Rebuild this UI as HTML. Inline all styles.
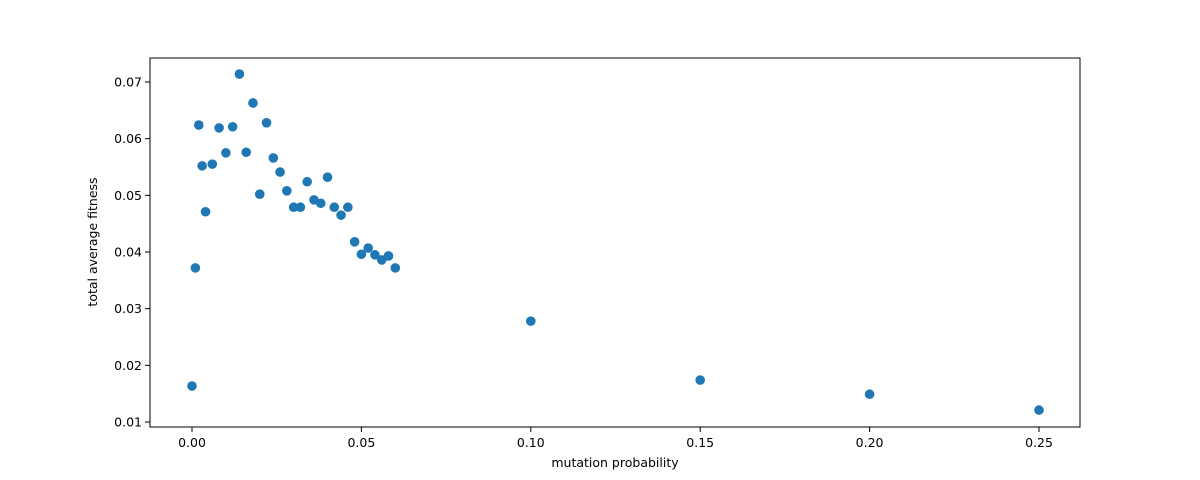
<!DOCTYPE html>
<html><head><meta charset="utf-8"><style>
body{margin:0;background:#fff;}
svg{display:block;font-family:"DejaVu Sans","Liberation Sans",sans-serif;}
</style></head><body>
<svg id="chart" width="1200" height="480">
<rect x="0" y="0" width="1200" height="480" fill="#fff"/>
<g id="plot"></g>
</svg>
<script>
const xValues=[0,0.001,0.002,0.003,0.004,0.006,0.008,0.010,0.012,0.014,0.016,0.018,0.020,0.022,0.024,0.026,0.028,0.030,0.032,0.034,0.036,0.038,0.040,0.042,0.044,0.046,0.048,0.050,0.052,0.054,0.056,0.058,0.060,0.10,0.15,0.20,0.25];
const yValues=[0.01635,0.0372,0.0624,0.0552,0.0471,0.0555,0.0619,0.0575,0.0621,0.0714,0.0576,0.0663,0.0502,0.0628,0.0566,0.0541,0.0508,0.0479,0.0479,0.0524,0.0492,0.0486,0.0532,0.0479,0.0465,0.0479,0.0418,0.0396,0.0407,0.0395,0.0386,0.0393,0.0372,0.0278,0.0174,0.0149,0.0121];
const xTicks=[0,0.05,0.10,0.15,0.20,0.25];
const xTickLabels=["0.00","0.05","0.10","0.15","0.20","0.25"];
const yTicks=[0.01,0.02,0.03,0.04,0.05,0.06,0.07];
const yTickLabels=["0.01","0.02","0.03","0.04","0.05","0.06","0.07"];

const NS="http://www.w3.org/2000/svg";
const L=150,R=1080,T=58,B=427;
function sx(v){return 192+v*3388;}
function sy(v){return 422-(v-0.01)*5666.7;}
const g=document.getElementById('plot');
function mk(tag,attrs,parent){const e=document.createElementNS(NS,tag);for(const k in attrs)e.setAttribute(k,attrs[k]);(parent||g).appendChild(e);return e;}

xValues.forEach((x,i)=>{
  const c=mk('circle',{cx:sx(x),cy:sy(yValues[i]),r:4.8,fill:'#1f77b4'});
  
  
});

const frame=mk('rect',{x:L,y:T,width:R-L,height:B-T,fill:'none',stroke:'#000','stroke-width':1});



xTicks.forEach((v,i)=>{
  const x=sx(v);
  const t=mk('line',{x1:x,x2:x,y1:B,y2:B+5,stroke:'#000'});
  
  
  const l=mk('text',{x:x,y:B+20,'text-anchor':'middle','font-size':12.5,fill:'#000'});
  l.textContent=xTickLabels[i];
  
  
});
yTicks.forEach((v,i)=>{
  const y=sy(v);
  const t=mk('line',{x1:L-5,x2:L,y1:y,y2:y,stroke:'#000'});
  
  
  const l=mk('text',{x:L-8,y:y+4.5,'text-anchor':'end','font-size':12.5,fill:'#000'});
  l.textContent=yTickLabels[i];
  
  
});
const xt=mk('text',{x:(L+R)/2,y:467,'text-anchor':'middle','font-size':12.5,fill:'#000'});
xt.textContent='mutation probability';


const yt=mk('text',{x:0,y:0,'text-anchor':'middle','font-size':12.5,fill:'#000',transform:'translate(101,242) rotate(-90)'});
yt.setAttribute('transform','translate(97,242) rotate(-90)');
yt.textContent='total average fitness';


</script>
</body></html>
